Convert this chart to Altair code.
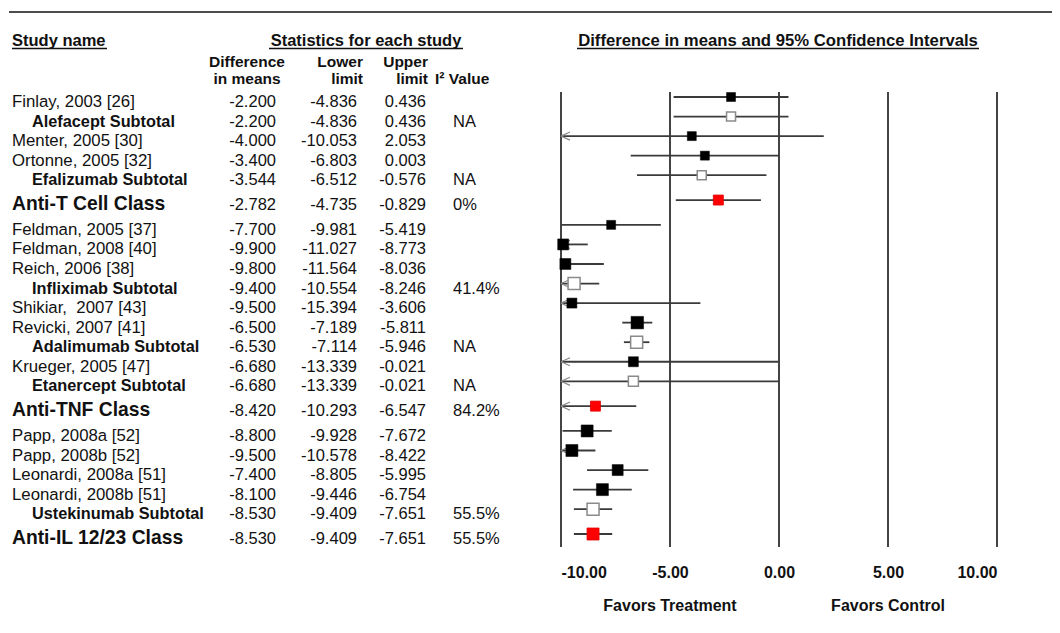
import altair as alt
import pandas as pd

# ---------------- data ----------------
names = [
    "Finlay, 2003 [26]", "Alefacept Subtotal", "Menter, 2005 [30]", "Ortonne, 2005 [32]",
    "Efalizumab Subtotal", "Anti-T Cell Class", "Feldman, 2005 [37]", "Feldman, 2008 [40]",
    "Reich, 2006 [38]", "Infliximab Subtotal", "Shikiar, \u00a02007 [43]", "Revicki, 2007 [41]",
    "Adalimumab Subtotal", "Krueger, 2005 [47]", "Etanercept Subtotal", "Anti-TNF Class",
    "Papp, 2008a [52]", "Papp, 2008b [52]", "Leonardi, 2008a [51]", "Leonardi, 2008b [51]",
    "Ustekinumab Subtotal", "Anti-IL 12/23 Class",
]
kinds = [
    "study", "sub", "study", "study", "sub", "class", "study", "study", "study", "sub",
    "study", "study", "sub", "study", "sub", "class", "study", "study", "study", "study",
    "sub", "class",
]
diffs = [-2.200, -2.200, -4.000, -3.400, -3.544, -2.782, -7.700, -9.900, -9.800, -9.400,
         -9.500, -6.500, -6.530, -6.680, -6.680, -8.420, -8.800, -9.500, -7.400, -8.100,
         -8.530, -8.530]
lowers = [-4.836, -4.836, -10.053, -6.803, -6.512, -4.735, -9.981, -11.027, -11.564, -10.554,
          -15.394, -7.189, -7.114, -13.339, -13.339, -10.293, -9.928, -10.578, -8.805, -9.446,
          -9.409, -9.409]
uppers = [0.436, 0.436, 2.053, 0.003, -0.576, -0.829, -5.419, -8.773, -8.036, -8.246,
          -3.606, -5.811, -5.946, -0.021, -0.021, -6.547, -7.672, -8.422, -5.995, -6.754,
          -7.651, -7.651]
i2_values = ["", "NA", "", "", "NA", "0%", "", "", "", "41.4%", "", "", "NA", "", "NA",
             "84.2%", "", "", "", "", "55.5%", "55.5%"]
weights = [9, 9, 9, 9, 9, 10, 9, 11, 11, 12, 10, 12.5, 12, 10, 10, 10, 12, 12, 11, 12, 12, 12]
tick_values = [-10, -5, 0, 5, 10]

# row slots (class rows get a little extra space around them)
GAP = 0.27
slots = []
s = 0.0
for k in kinds:
    if k == "class":
        s += GAP
    slots.append(s)
    if k == "class":
        s += GAP
    s += 1
last_slot = slots[-1]

df = pd.DataFrame({
    "name": names, "kind": kinds, "diff": diffs, "lower": lowers, "upper": uppers,
    "i2": i2_values, "weight": weights, "slot": slots,
})
df["diff_s"] = [f"{v:.3f}" for v in diffs]
df["lower_s"] = [f"{v:.3f}" for v in lowers]
df["upper_s"] = [f"{v:.3f}" for v in uppers]

W, H = 1044, 612
FONT = "Liberation Sans"
TXT = "#111111"

xs = alt.Scale(domain=[-10, 10], range=[553, 989], nice=False, zero=False)
ys = alt.Scale(domain=[0, last_slot], range=[89, 526], nice=False, zero=False)
xaxis = alt.Axis(values=tick_values, title=None, grid=False, domain=False, ticks=False,
                 tickSize=0, labelPadding=17, offset=539 - H, labelFontSize=16,
                 labelFontWeight="bold", labelColor=TXT, labelFont=FONT,
                 labelExpr="replace(format(datum.value, '.2f'), '\u2212', '-')")
Y = alt.Y("slot:Q", scale=ys, axis=None)

base = alt.Chart(df)

grid = alt.Chart(pd.DataFrame({"t": tick_values})).mark_rule(
    color="#444444", strokeWidth=2
).encode(
    x=alt.X("t:Q", scale=xs, axis=xaxis), y=alt.value(84), y2=alt.value(539)
)

ci = base.transform_calculate(lo="max(datum.lower, -10)").mark_rule(
    color="#3a3a3a", strokeWidth=1.8
).encode(x=alt.X("lo:Q", scale=xs, axis=xaxis), x2="upper:Q", y=Y)

arrows = base.transform_filter("datum.lower < -10").transform_calculate(
    lo="max(datum.lower, -10)"
).mark_point(
    shape="M0,0L2,-0.9M0,0L2,0.9", size=81, color="#8a8a8a", strokeWidth=1.2,
    filled=False, opacity=1
).encode(x=alt.X("lo:Q", scale=xs, axis=xaxis), y=Y)

size_enc = alt.Size("weight:Q", scale=alt.Scale(type="pow", exponent=2, domain=[0, 12],
                                                range=[0, 144]), legend=None)


def squares(kind, fill, stroke, sw):
    return base.transform_filter(f"datum.kind == '{kind}'").mark_square(
        fill=fill, stroke=stroke, strokeWidth=sw, opacity=1, fillOpacity=1
    ).encode(x=alt.X("diff:Q", scale=xs, axis=xaxis), y=Y, size=size_enc)


sq_study = squares("study", "#000000", "#000000", 0.5)
sq_sub = squares("sub", "#ffffff", "#8a8a8a", 1.5)
sq_class = squares("class", "#ff0000", "#e00000", 0.8)


def name_layer(kind, xpx, size, weight, dy):
    return base.transform_filter(f"datum.kind == '{kind}'").mark_text(
        align="left", baseline="middle", dy=dy, font=FONT, fontSize=size,
        fontWeight=weight, color=TXT
    ).encode(x=alt.value(xpx), y=Y, text="name:N")


names_study = name_layer("study", 4, 16.8, "normal", 5)
names_sub = name_layer("sub", 24, 16.3, "bold", 5)
names_class = name_layer("class", 4, 19.3, "bold", 4)


def col_layer(field, xpx, align):
    return base.mark_text(
        align=align, baseline="middle", dy=5, font=FONT, fontSize=16.5, color=TXT
    ).encode(x=alt.value(xpx), y=Y, text=f"{field}:N")


col_diff = col_layer("diff_s", 268, "right")
col_low = col_layer("lower_s", 349, "right")
col_up = col_layer("upper_s", 418, "right")
col_i2 = col_layer("i2", 445, "left")


def label(text, xpx, ypx, align="left", size=16.5, weight="bold", baseline="middle"):
    return alt.Chart(pd.DataFrame({"t": [text]})).mark_text(
        align=align, baseline=baseline, font=FONT, fontSize=size, fontWeight=weight,
        color=TXT, lineBreak="\n", lineHeight=17.5
    ).encode(x=alt.value(xpx), y=alt.value(ypx), text="t:N")


def hline(x1, x2, ypx, width=1.5, color="#111111"):
    return alt.Chart(pd.DataFrame({"t": [0]})).mark_rule(
        color=color, strokeWidth=width
    ).encode(x=alt.value(x1), x2=alt.value(x2), y=alt.value(ypx))


headers = [
    hline(1, W, 4, 1.5),
    label("Study name", 4, 33),
    hline(4, 99, 40.5, 1.5),
    label("Statistics for each study", 358, 33, "center"),
    hline(261, 455, 40.5, 1.5),
    label("Difference in means and 95% Confidence Intervals", 770, 33, "center", 16.7),
    hline(569, 971, 40.5, 1.5),
    label("Difference\nin means", 239, 58.5, "center", 15.5, baseline="alphabetic"),
    label("Lower\nlimit", 355, 58.5, "right", 15.5, baseline="alphabetic"),
    label("Upper\nlimit", 420, 58.5, "right", 15.5, baseline="alphabetic"),
    label("I² Value", 427, 76, "left", 15.5, baseline="alphabetic"),
]

favors = [
    alt.Chart(pd.DataFrame({"t": ["Favors Treatment"]})).mark_text(
        align="center", baseline="middle", font=FONT, fontSize=16, fontWeight="bold",
        color=TXT
    ).encode(x=alt.X(datum=-5, scale=xs, axis=xaxis), y=alt.value(598), text="t:N"),
    alt.Chart(pd.DataFrame({"t": ["Favors Control"]})).mark_text(
        align="center", baseline="middle", font=FONT, fontSize=16, fontWeight="bold",
        color=TXT
    ).encode(x=alt.X(datum=5, scale=xs, axis=xaxis), y=alt.value(598), text="t:N"),
]

chart = alt.layer(
    grid, ci, arrows, sq_study, sq_sub, sq_class,
    names_study, names_sub, names_class, col_diff, col_low, col_up, col_i2,
    *headers, *favors
).properties(
    width=W, height=H, autosize=alt.AutoSizeParams(type="none"), padding=0,
    background="#ffffff"
).configure_view(stroke=None)

chart.save("out.html", embed_options={"renderer": "svg", "actions": False})
